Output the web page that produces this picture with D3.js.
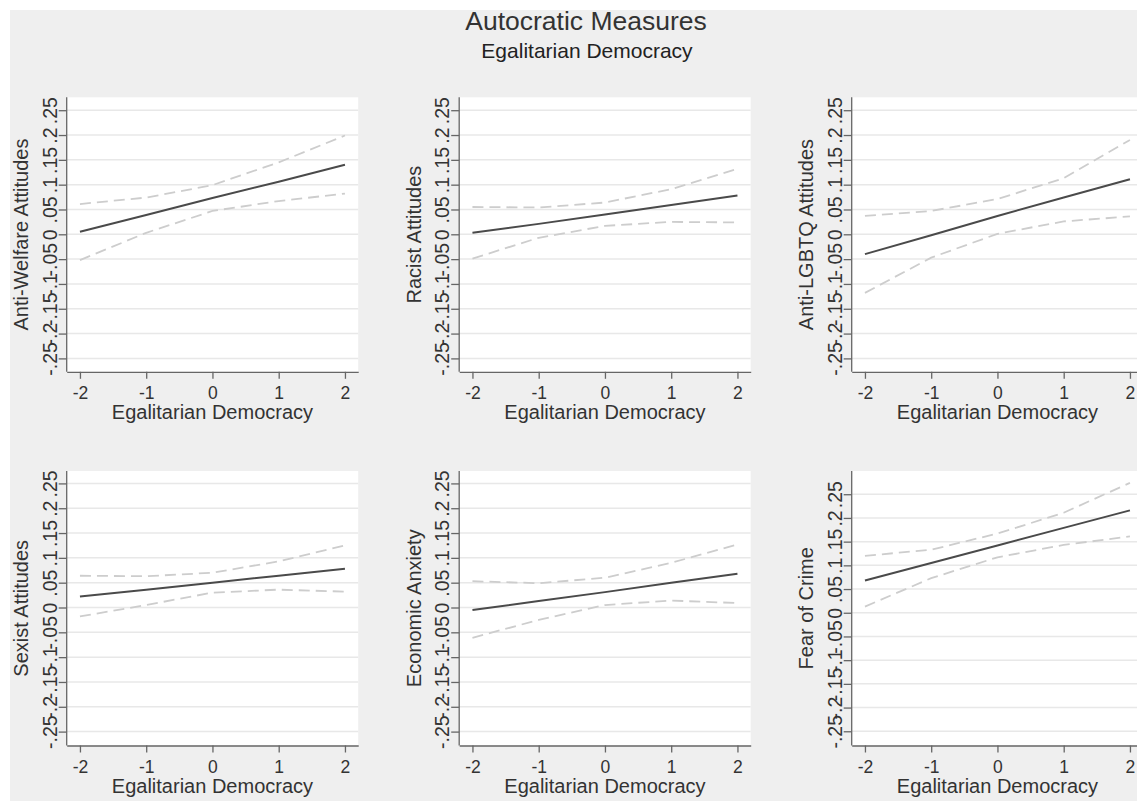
<!DOCTYPE html>
<html>
<head>
<meta charset="utf-8">
<script src="https://cdn.jsdelivr.net/npm/d3@7"></script>
<style>
  body { margin: 0; background: #fff; }
  svg { display: block; }
  svg text { font-family: "Liberation Sans", Arial, sans-serif; }
</style>
</head>
<body>
<div id="container"></div>
<script>
/* CONSTANTS AND GLOBALS */
const width = 1137;
const height = 801;

/* DATA */
const xValues = [-2, -1, 0, 1, 2];
const xTicks = [-2, -1, 0, 1, 2];
const yTicks = [-0.25, -0.2, -0.15, -0.1, -0.05, 0, 0.05, 0.1, 0.15, 0.2, 0.25];
const yTickLabels = ["-.25", "-.2", "-.15", "-.1", "-.05", "0", ".05", ".1", ".15", ".2", ".25"];

const panelTitles = ["Anti-Welfare Attitudes", "Racist Attitudes", "Anti-LGBTQ Attitudes",
  "Sexist Attitudes", "Economic Anxiety", "Fear of Crime"];
const xTitle = "Egalitarian Democracy";

// point estimates
const estimates = [
  [0.005, 0.039, 0.073, 0.106, 0.140],
  [0.003, 0.021, 0.040, 0.059, 0.078],
  [-0.040, -0.002, 0.037, 0.074, 0.111],
  [0.022, 0.036, 0.050, 0.064, 0.078],
  [-0.005, 0.013, 0.031, 0.050, 0.068],
  [0.068, 0.105, 0.142, 0.179, 0.216]
];
// upper confidence bounds
const upper = [
  [0.061, 0.074, 0.099, 0.145, 0.199],
  [0.055, 0.054, 0.064, 0.091, 0.132],
  [0.037, 0.047, 0.071, 0.113, 0.190],
  [0.064, 0.063, 0.070, 0.093, 0.125],
  [0.053, 0.049, 0.060, 0.090, 0.127],
  [0.120, 0.133, 0.167, 0.211, 0.274]
];
// lower confidence bounds
const lower = [
  [-0.052, 0.003, 0.047, 0.067, 0.082],
  [-0.049, -0.007, 0.017, 0.025, 0.024],
  [-0.118, -0.047, 0.001, 0.026, 0.036],
  [-0.018, 0.005, 0.030, 0.036, 0.032],
  [-0.061, -0.025, 0.005, 0.014, 0.009],
  [0.013, 0.073, 0.117, 0.143, 0.161]
];
// y ranges of each panel
const yDomains = [
  [-0.277, 0.276], [-0.277, 0.276], [-0.277, 0.276],
  [-0.278, 0.275], [-0.278, 0.275], [-0.280, 0.299]
];

/* LAYOUT */
const plotW = 291.5;
const plotH = 274.5;
const colStep = 392.5;
const firstLeft = 66.7;
const rowTops = [97.3, 471];
const font = "'Liberation Sans', Arial, sans-serif";

const svg = d3.select("#container")
  .append("svg")
  .attr("width", width)
  .attr("height", height);

// graph region
svg.append("rect")
  .attr("x", 10).attr("y", 10)
  .attr("width", width - 10).attr("height", height - 10)
  .attr("fill", "#efefef");

// titles
svg.append("text")
  .attr("x", 586).attr("y", 30)
  .attr("text-anchor", "middle")
  .style("font-size", "26.5px")
  .attr("fill", "#333")
  .text("Autocratic Measures");

svg.append("text")
  .attr("x", 587).attr("y", 58)
  .attr("text-anchor", "middle")
  .style("font-size", "21px")
  .attr("fill", "#222")
  .text("Egalitarian Democracy");

panelTitles.forEach((title, i) => {
  const left = firstLeft + (i % 3) * colStep;
  const top = rowTops[Math.floor(i / 3)];

  const xScale = d3.scaleLinear()
    .domain([-2.2, 2.2])
    .range([left, left + plotW]);

  const yScale = d3.scaleLinear()
    .domain(yDomains[i])
    .range([top + plotH, top]);

  const g = svg.append("g");

  // plot region
  g.append("rect")
    .attr("x", left).attr("y", top)
    .attr("width", plotW).attr("height", plotH)
    .attr("fill", "#fff");

  // gridlines
  g.selectAll(".grid")
    .data(yTicks)
    .join("line")
    .attr("class", "grid")
    .attr("x1", left).attr("x2", left + plotW)
    .attr("y1", d => yScale(d)).attr("y2", d => yScale(d))
    .attr("stroke", "#e8e8e8")
    .attr("stroke-width", 1.5);

  // lines
  const line = arr => d3.line()
    .x((d, j) => xScale(xValues[j]))
    .y(d => yScale(d))(arr);

  g.append("path")
    .attr("d", line(upper[i]))
    .attr("fill", "none")
    .attr("stroke", "#cdcdcd")
    .attr("stroke-width", 1.8)
    .attr("stroke-dasharray", "11,6");

  g.append("path")
    .attr("d", line(lower[i]))
    .attr("fill", "none")
    .attr("stroke", "#cdcdcd")
    .attr("stroke-width", 1.8)
    .attr("stroke-dasharray", "11,6");

  g.append("path")
    .attr("d", line(estimates[i]))
    .attr("fill", "none")
    .attr("stroke", "#4a4a4a")
    .attr("stroke-width", 2);

  // y axis
  const yAxis = d3.axisLeft(yScale)
    .tickValues(yTicks)
    .tickFormat((d, j) => yTickLabels[j])
    .tickSize(8)
    .tickSizeOuter(0);

  const yG = g.append("g")
    .attr("transform", `translate(${left}, 0)`)
    .call(yAxis)
    .attr("font-family", font)
    .attr("font-size", 19.5);
  yG.select(".domain").attr("stroke", "#666").attr("stroke-width", 1.3)
    .attr("d", `M0,${top + plotH}V${top}`);
  yG.selectAll(".tick line").attr("stroke", "#666").attr("stroke-width", 1.3);
  yG.selectAll(".tick text")
    .attr("x", null).attr("dy", null)
    .attr("transform", "translate(-10,0) rotate(-90)")
    .attr("text-anchor", "middle")
    .attr("fill", "#333");

  // x axis
  const xAxis = d3.axisBottom(xScale)
    .tickValues(xTicks)
    .tickFormat(d => String(d))
    .tickSize(7)
    .tickPadding(8)
    .tickSizeOuter(0);

  const xG = g.append("g")
    .attr("transform", `translate(0, ${top + plotH})`)
    .call(xAxis)
    .attr("font-family", font)
    .attr("font-size", 17.5);
  xG.select(".domain").attr("stroke", "#666").attr("stroke-width", 1.3);
  xG.selectAll(".tick line").attr("stroke", "#666").attr("stroke-width", 1.3);
  xG.selectAll(".tick text")
    .attr("fill", "#333");

  // x title
  g.append("text")
    .attr("x", left + plotW / 2)
    .attr("y", top + plotH + 47.5)
    .attr("text-anchor", "middle")
    .attr("fill", "#333")
    .style("font-size", "20px")
    .text(xTitle);

  // y title
  g.append("text")
    .attr("transform", `translate(${left - 38.7}, ${top + plotH / 2}) rotate(-90)`)
    .attr("text-anchor", "middle")
    .attr("fill", "#333")
    .style("font-size", "20px")
    .text(title);
});
</script>
</body>
</html>
